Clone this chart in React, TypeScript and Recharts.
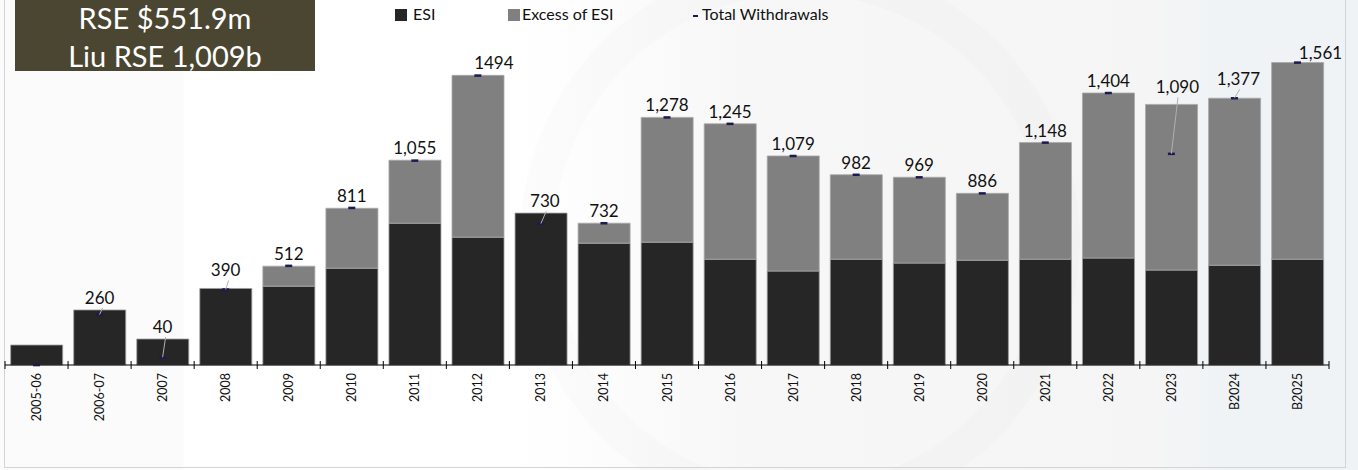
import React from "react";
import { ComposedChart, Bar, Line, XAxis, YAxis } from "recharts";

const categories = [
  "2005-06", "2006-07", "2007", "2008", "2009", "2010", "2011", "2012", "2013", "2014", "2015",
  "2016", "2017", "2018", "2019", "2020", "2021", "2022", "2023", "B2024", "B2025",
];
const esi = [103, 284, 134, 395, 407, 500, 732, 660, 784, 629, 634, 546, 485, 546, 526, 541, 546, 552, 490, 515, 546];
const excessOfEsi = [0, 0, 0, 0, 103, 309, 325, 835, 0, 103, 644, 699, 594, 436, 443, 345, 602, 852, 855, 862, 1015];
const totalWithdrawals = [0, 260, 40, 390, 512, 811, 1055, 1494, 730, 732, 1278, 1245, 1079, 982, 969, 886, 1148, 1404, 1090, 1377, 1561];
const totalLabels = [
  "", "260", "40", "390", "512", "811", "1,055", "1494", "730", "732", "1,278",
  "1,245", "1,079", "982", "969", "886", "1,148", "1,404", "1,090", "1,377", "1,561",
];

const data = categories.map((name, i) => ({
  name,
  esi: esi[i],
  excess: excessOfEsi[i],
  total: totalWithdrawals[i],
}));

// plot geometry (matches margins below)
const PLOT_TOP = 55;
const PLOT_BOTTOM = 365;
const Y_MAX = 1600;
const yPx = (v: number) => PLOT_BOTTOM - (v / Y_MAX) * (PLOT_BOTTOM - PLOT_TOP);

// hand-moved labels, like in the original workbook
const labelNudge: Record<string, [number, number]> = {
  "2008": [0, -6],
  "2012": [16, 0],
  "2013": [4, 0],
  "2023": [6, -5],
  "B2024": [4, -7],
  "B2025": [23, 2],
};

const FONT = "Lato, 'Open Sans', sans-serif";

const Dash = (props: any) => {
  const { cx, cy } = props;
  if (cx == null || cy == null) return null;
  return <rect x={cx - 3.5} y={cy - 1.2} width={7} height={2.5} fill="#1b1b4f" />;
};

const TotalLabel = (props: any) => {
  const { x, y, index } = props;
  const text = totalLabels[index];
  if (!text) return null;
  const barTop = yPx(esi[index] + excessOfEsi[index]);
  const [dx, dy] = labelNudge[categories[index]] || [0, 0];
  const base = Math.min(barTop, y) - 6 + dy;
  const showLeader = y - base > 10;
  return (
    <g>
      {showLeader && (
        <line x1={x} y1={y} x2={x + dx * 0.6 + 3} y2={base + 4} stroke="#b0b0b0" strokeWidth={1} />
      )}
      <text x={x + dx} y={base} textAnchor="middle" fontSize={17} fontFamily={FONT} fill="#111">
        {text}
      </text>
    </g>
  );
};

const CategoryTick = (props: any) => {
  const { x, y, payload, index } = props;
  const half = payload && payload.offset ? payload.offset : 63.05 / 2;
  return (
    <g>
      <line x1={x - half} x2={x - half} y1={y - 4} y2={y + 4} stroke="#000" />
      {index === categories.length - 1 && (
        <line x1={x + half} x2={x + half} y1={y - 4} y2={y + 4} stroke="#000" />
      )}
      <text
        transform={`translate(${x},${y + 8}) rotate(-90)`}
        textAnchor="end"
        dominantBaseline="central"
        fontSize={12.5}
        fontFamily={FONT}
        fill="#111"
      >
        {payload.value}
      </text>
    </g>
  );
};

const legendItems = [
  { label: "ESI", color: "#262626", kind: "square", left: 395, textLeft: 413 },
  { label: "Excess of ESI", color: "#808080", kind: "square", left: 508, textLeft: 522 },
  { label: "Total Withdrawals", color: "#1b1b4f", kind: "dash", left: 693, textLeft: 702 },
];

const ChartLegend = () => (
  <div style={{ position: "absolute", left: 0, top: 0, fontFamily: FONT, fontSize: 16, color: "#111" }}>
    {legendItems.map((it) => (
      <React.Fragment key={it.label}>
        {it.kind === "square" ? (
          <span style={{ position: "absolute", left: it.left, top: 9, width: 12, height: 12, background: it.color }} />
        ) : (
          <span style={{ position: "absolute", left: it.left, top: 15, width: 5, height: 2, background: it.color }} />
        )}
        <span style={{ position: "absolute", left: it.textLeft, top: 4, whiteSpace: "nowrap", lineHeight: "20px" }}>
          {it.label}
        </span>
      </React.Fragment>
    ))}
  </div>
);

export default function App() {
  return (
    <div
      style={{
        position: "absolute",
        left: 0,
        top: 0,
        width: 1358,
        height: 470,
        overflow: "hidden",
        fontFamily: FONT,
        background:
          "linear-gradient(90deg, #fbfbfb 0px, #fbfbfb 183px, #ffffff 184px, #ffffff 520px, #f7f7f7 760px, #f5f5f5 1150px, #eff3f6 1230px, #eff3f6 1358px)",
      }}
    >
      {/* faint watermark ring */}
      <div
        style={{
          position: "absolute",
          left: 520,
          top: -40,
          width: 560,
          height: 560,
          borderRadius: "50%",
          border: "34px solid rgba(0,0,0,0.012)",
          boxSizing: "border-box",
        }}
      />
      {/* chart frame */}
      <div
        style={{
          position: "absolute",
          left: 4,
          top: -2,
          width: 1342,
          height: 470,
          border: "1px solid #d4d4d4",
          boxSizing: "border-box",
        }}
      />
      <ComposedChart
        width={1358}
        height={470}
        data={data}
        margin={{ top: PLOT_TOP, right: 29, bottom: 5, left: 5 }}
        barCategoryGap="9%"
        style={{ position: "absolute", left: 0, top: 0 }}
      >
        <XAxis
          dataKey="name"
          height={100}
          interval={0}
          tickLine={false}
          tickSize={0}
          tickMargin={0}
          axisLine={{ stroke: "#000", strokeWidth: 1 }}
          tick={<CategoryTick />}
        />
        <YAxis hide domain={[0, Y_MAX]} />
        <Bar dataKey="esi" stackId="a" fill="#262626" stroke="#9c9c9c" strokeWidth={0.8} isAnimationActive={false} />
        <Bar dataKey="excess" stackId="a" fill="#808080" stroke="#a8a8a8" strokeWidth={0.8} isAnimationActive={false} />
        <Line
          dataKey="total"
          stroke="none"
          dot={<Dash />}
          activeDot={false}
          label={<TotalLabel />}
          isAnimationActive={false}
        />
      </ComposedChart>
      <ChartLegend />
      {/* headline box */}
      <div
        style={{
          position: "absolute",
          left: 15,
          top: 0,
          width: 300,
          height: 71,
          background: "#4b4631",
          color: "#fff",
          textAlign: "center",
          fontSize: 29,
          lineHeight: "36px",
        }}
      >
        <div style={{ position: "absolute", left: 0, right: 0, top: 0 }}>RSE $551.9m</div>
        <div style={{ position: "absolute", left: 0, right: 0, top: 38 }}>Liu RSE 1,009b</div>
      </div>
    </div>
  );
}
